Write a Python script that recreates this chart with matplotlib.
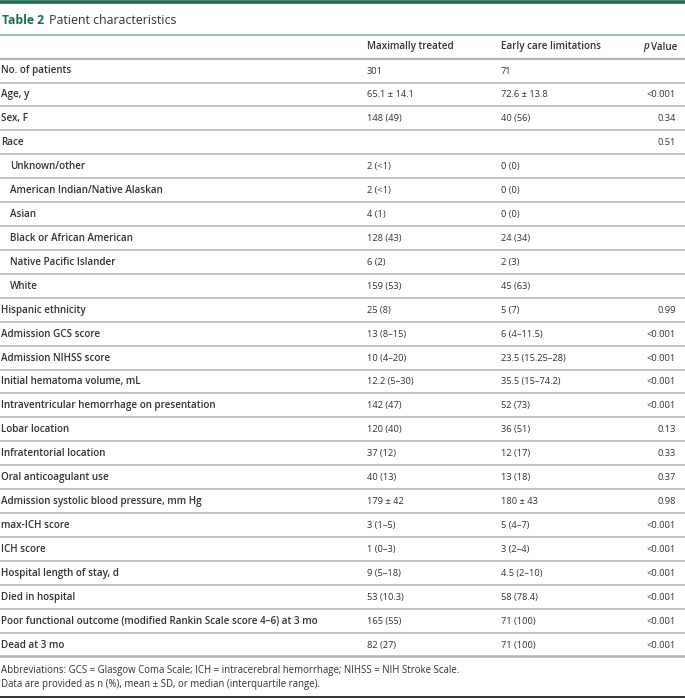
import matplotlib.pyplot as plt

# donnees du tableau
labels = ["No. of patients", "Age, y", "Sex, F", "Race", "Unknown/other",
          "American Indian/Native Alaskan", "Asian", "Black or African American",
          "Native Pacific Islander", "White", "Hispanic ethnicity", "Admission GCS score",
          "Admission NIHSS score", "Initial hematoma volume, mL",
          "Intraventricular hemorrhage on presentation", "Lobar location",
          "Infratentorial location", "Oral anticoagulant use",
          "Admission systolic blood pressure, mm Hg", "max-ICH score", "ICH score",
          "Hospital length of stay, d", "Died in hospital",
          "Poor functional outcome (modified Rankin Scale score 4–6) at 3 mo",
          "Dead at 3 mo"]
sous_ligne = [False, False, False, False, True, True, True, True, True, True] + [False] * 15
max_treated = ["301", "65.1 ± 14.1", "148 (49)", "", "2 (<1)", "2 (<1)", "4 (1)", "128 (43)",
               "6 (2)", "159 (53)", "25 (8)", "13 (8–15)", "10 (4–20)", "12.2 (5–30)",
               "142 (47)", "120 (40)", "37 (12)", "40 (13)", "179 ± 42", "3 (1–5)", "1 (0–3)",
               "9 (5–18)", "53 (10.3)", "165 (55)", "82 (27)"]
early_care = ["71", "72.6 ± 13.8", "40 (56)", "", "0 (0)", "0 (0)", "0 (0)", "24 (34)",
              "2 (3)", "45 (63)", "5 (7)", "6 (4–11.5)", "23.5 (15.25–28)", "35.5 (15–74.2)",
              "52 (73)", "36 (51)", "12 (17)", "13 (18)", "180 ± 43", "5 (4–7)", "3 (2–4)",
              "4.5 (2–10)", "58 (78.4)", "71 (100)", "71 (100)"]
p_values = ["", "<0.001", "0.34", "0.51", "", "", "", "", "", "", "0.99", "<0.001", "<0.001",
            "<0.001", "<0.001", "0.13", "0.33", "0.37", "0.98", "<0.001", "<0.001", "<0.001",
            "<0.001", "<0.001", "<0.001"]
en_tetes = ["Maximally treated", "Early care limitations"]
notes = ["Abbreviations: GCS = Glasgow Coma Scale; ICH = intracerebral hemorrhage; NIHSS = NIH Stroke Scale.",
         "Data are provided as n (%), mean ± SD, or median (interquartile range)."]

vert = "#1f6b4f"
texte = "#333333"
plt.rcParams['font.family'] = ['Open Sans', 'DejaVu Sans']

fig = plt.figure(figsize=(6.85, 6.98), dpi=100)
ax = fig.add_axes([0, 0, 1, 1])
ax.set_xlim(0, 685)
ax.set_ylim(698, 0)
ax.axis("off")

# bande verte en haut et titre
ax.axhline(1.5, color=vert, lw=2.6)
ax.text(2, 24.5, "Table 2", color=vert, fontsize=8.7, fontweight="bold", va="baseline")
ax.text(49, 24.5, "Patient characteristics", color=texte, fontsize=8.9, va="baseline")
ax.plot([0, 685], [35, 35], color="#8fb0a4", lw=1.2)

# en-tete des colonnes (alignement sur la ligne de base)
gras = 7.15
normal = 6.7
yb = 49.5
ax.text(367, yb, en_tetes[0], fontsize=gras, fontweight="semibold", color=texte, va="baseline")
ax.text(501, yb, en_tetes[1], fontsize=gras, fontweight="semibold", color=texte, va="baseline")
ax.text(677, yb, "Value", fontsize=gras, fontweight="semibold", color=texte, va="baseline", ha="right")
ax.text(649, yb, "p", fontsize=gras, fontweight="semibold", style="italic", color=texte,
        va="baseline", ha="right")
ax.plot([0, 685], [58.5, 58.5], color="#b5b5b5", lw=1.6)

# lignes du tableau
pas = 23.92
for i, lab in enumerate(labels):
    y = 70 + i * pas
    x = 10 if sous_ligne[i] else 1
    ax.text(x, y + 3.5, lab, fontsize=gras, fontweight="semibold", color=texte, va="baseline")
    ax.text(367, y + 3.5, max_treated[i], fontsize=normal, color=texte, va="baseline")
    ax.text(501, y + 3.5, early_care[i], fontsize=normal, color=texte, va="baseline")
    ax.text(676, y + 3.5, p_values[i], fontsize=normal, color=texte, va="baseline", ha="right")
    if i < len(labels) - 1:
        ax.plot([0, 685], [y + 12.5, y + 12.5], color="#b0b0b0", lw=1.1)
    else:
        ax.plot([0, 685], [y + 12, y + 12], color="#b0b0b0", lw=1.8)

# notes
ax.text(1, 673.5, notes[0], fontsize=6.9, color=texte, va="baseline")
ax.text(1, 686.5, notes[1], fontsize=6.9, color=texte, va="baseline")
ax.plot([0, 685], [696.5, 696.5], color="#333333", lw=1.4)

fig.savefig("out.png", dpi=100)
